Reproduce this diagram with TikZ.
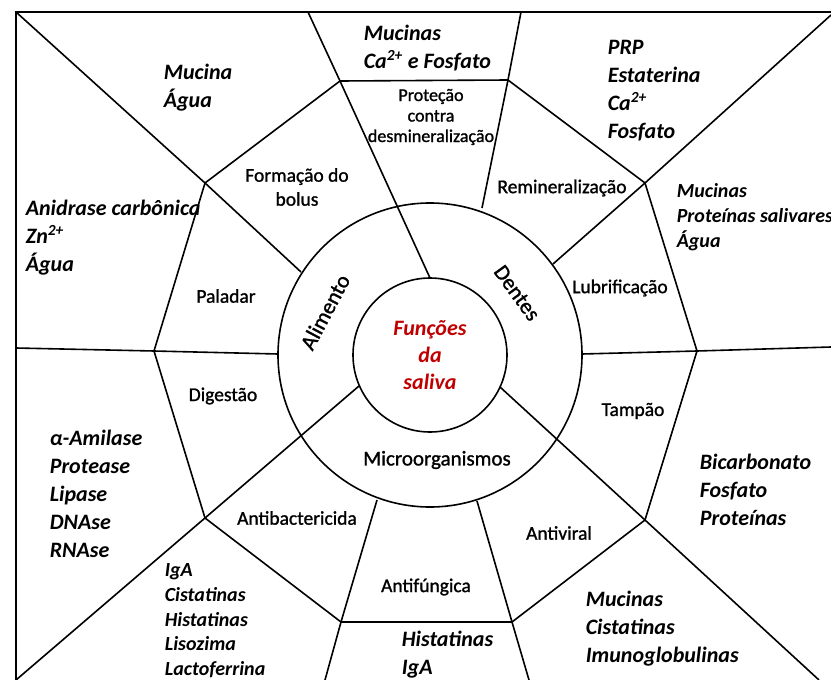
\documentclass[tikz,border=0pt]{standalone}
\usepackage{fontspec}
\setmainfont{Carlito}
\newfontfamily\lblfont[FakeBold=1.2]{Carlito}
\usepackage{tikz}
\usepackage{xcolor}
\definecolor{salred}{RGB}{192,0,0}

\begin{document}
\begin{tikzpicture}[x=1pt,y=-1pt,line width=1.6pt,
  lbl/.style={font=\lblfont\fontsize{19.5}{24}\selectfont,align=center,inner sep=0pt},
  lst/.style={font=\fontsize{22}{28}\selectfont\bfseries\itshape,align=left,anchor=north west,inner sep=0pt},
  lsts/.style={lst,font=\fontsize{20}{24.7}\selectfont\bfseries\itshape}]
  \useasboundingbox (0,0) rectangle (831,680);
  % frame
  \coordinate (tl) at (16,12);
  \coordinate (tr) at (831,12);
  \coordinate (bl) at (16,680);
  \draw (bl)--(tl)--(tr);
  % rings
  \coordinate (c) at (430,355);
  \draw (c) circle[radius=77pt];
  \draw (c) circle[radius=152pt];
  % junctions of the outer polygon
  \coordinate (n0) at (340,81);
  \coordinate (n1) at (205,183);
  \coordinate (n2) at (154,351);
  \coordinate (n3) at (205,518);
  \coordinate (n7) at (341,622);
  \coordinate (n8) at (512,622);
  \coordinate (n9) at (645,520);
  \coordinate (n6) at (697,351);
  \coordinate (n5) at (645,183);
  \coordinate (n4) at (508,80);
  \draw (n0)--(n1)--(n2)--(n3)--(n7)--(n8)--(n9)--(n6)--(n5)--(n4)--cycle;
  % spokes from the inner circle
  \coordinate (i1) at (430,278);
  \coordinate (i2) at (359,386);
  \coordinate (i3) at (500,387);
  \coordinate (e1) at (308,12);
  \coordinate (e3) at (819,680);
  \draw (i1)--(n0)--(e1);
  \draw (i2)--(n3)--(bl);
  \draw (i3)--(n9)--(e3);
  % spokes from the outer circle
  \coordinate (oA) at (301,272);
  \coordinate (oB) at (278,354);
  \coordinate (oD) at (377,500);
  \coordinate (oE) at (477,501);
  \coordinate (oF) at (582,354);
  \coordinate (oG) at (553,264);
  \coordinate (oH) at (482,208);
  \coordinate (eL) at (16,348);
  \coordinate (eT) at (521,12);
  \coordinate (eTR) at (831,15);
  \coordinate (eR) at (831,347);
  \coordinate (eB1) at (325,680);
  \coordinate (eB2) at (529,680);
  \draw (oA)--(n1)--(tl);
  \draw (oB)--(n2)--(eL);
  \draw (oH)--(n4)--(eT);
  \draw (oG)--(n5)--(eTR);
  \draw (oF)--(n6)--(eR);
  \draw (oE)--(n8)--(eB2);
  \draw (oD)--(n7)--(eB1);
  % centre and ring labels
  \node[lbl,font=\fontsize{22}{27}\selectfont\bfseries\itshape,text=salred] (saliva) at (c) {Funções\\da\\saliva};
  \node[lbl,font=\lblfont\fontsize{22}{26}\selectfont,rotate=62] (alimento) at (325,312) {Alimento};
  \node[lbl,font=\lblfont\fontsize{22}{26}\selectfont,rotate=-54] (dentes) at (517,293) {Dentes};
  \node[lbl,font=\lblfont\fontsize{21}{26}\selectfont] (micro) at (437,460) {Microorganismos};
  % functions
  \node[lbl,font=\lblfont\fontsize{18}{20.5}\selectfont] (protecao) at (431,117) {Proteção\\contra\\desmineralização};
  \node[lbl] (bolus) at (297,187) {Formação do\\bolus};
  \node[lbl] (remin) at (562,188) {Remineralização};
  \node[lbl] (paladar) at (226,296) {Paladar};
  \node[lbl] (lubri) at (620,288) {Lubrificação};
  \node[lbl] (digestao) at (223,396) {Digestão};
  \node[lbl] (tampao) at (633,411) {Tampão};
  \node[lbl] (antibac) at (297,518) {Antibactericida};
  \node[lbl] (antiviral) at (559,533) {Antiviral};
  \node[lbl] (antifung) at (426,587) {Antifúngica};
  % components
  \node[lst] (cmpProt) at (363,24) {Mucinas\\Ca\textsuperscript{2+} e Fosfato};
  \node[lst] (cmpBolus) at (163,63) {Mucina\\Água};
  \node[lst] (cmpRemin) at (607,39) {PRP\\Estaterina\\Ca\textsuperscript{2+}\\Fosfato};
  \node[lst] (cmpPal) at (25,199) {Anidrase carbônica\\Zn\textsuperscript{2+}\\Água};
  \node[lsts] (cmpLub) at (676,183) {Mucinas\\Proteínas salivares\\Água};
  \node[lst] (cmpDig) at (49,429) {α-Amilase\\Protease\\Lipase\\DNAse\\RNAse};
  \node[lst] (cmpTamp) at (699,453) {Bicarbonato\\Fosfato\\Proteínas};
  \node[lsts] (cmpBac) at (164,563) {IgA\\Cistatinas\\Histatinas\\Lisozima\\Lactoferrina};
  \node[lst] (cmpFung) at (401,630) {Histatinas\\IgA};
  \node[lst] (cmpVir) at (585,590) {Mucinas\\Cistatinas\\Imunoglobulinas};
\end{tikzpicture}
\end{document}
